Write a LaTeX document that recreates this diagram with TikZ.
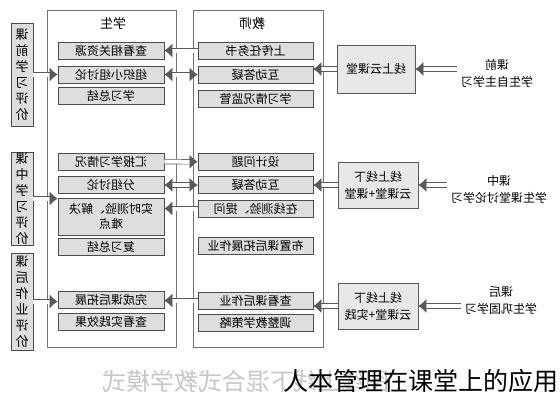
\documentclass[tikz,border=0pt]{standalone}
\usepackage{fontspec}
\usepackage{graphicx}
\newfontfamily\cjk{Noto Sans CJK SC}
\usetikzlibrary{positioning, arrows.meta}
\newcommand\mr[1]{\reflectbox{#1}}

\tikzset{
  panel/.style={draw=black!55, line width=0.8pt, fill=white, minimum width=130pt, minimum height=337pt, inner sep=0pt},
  sbox/.style={draw=black!70, fill=black!13, line width=0.8pt, minimum width=106pt, minimum height=17pt, inner sep=0pt, align=center, font=\cjk\fontsize{12}{15}\selectfont},
  tbox/.style={sbox, minimum width=115pt},
  evalbox/.style={draw=black!70, fill=black!13, line width=0.8pt, minimum width=22pt, inner sep=0pt, align=center, font=\cjk\fontsize{13}{16}\selectfont},
  cbox/.style={draw=black!65, fill=black!9, line width=0.8pt, minimum width=80pt, minimum height=46pt, align=center, font=\cjk\fontsize{12}{17}\selectfont},
  phase/.style={align=center, font=\cjk\fontsize{12}{17}\selectfont},
  hollow/.style={draw=black!65, line width=0.7pt, double=white, double distance=4pt, -{Latex[length=8pt,width=14pt]}},
  hollowboth/.style={hollow, {Latex[length=8pt,width=14pt]}-{Latex[length=8pt,width=14pt]}},
}

\begin{document}
\begin{tikzpicture}[x=1pt, y=-1pt]
        \useasboundingbox (0,0) rectangle (560,400);
        % columns
        \node (stu) [panel, minimum width=129pt] at (111.5,178.5) {};
        \node (tea) [panel] at (258,178.5) {};
        \node (stuT) [font=\cjk\fontsize{13}{15}\selectfont] at (113,23) {\mr{学生}};
        \node (teaT) [font=\cjk\fontsize{13}{15}\selectfont] at (252,24) {\mr{教师}};
        % student
        \node (s1) [sbox] at (111,50.5)  {\mr{查看相关资源}};
        \node (s2) [sbox] at (111,74.5)  {\mr{组织小组讨论}};
        \node (s3) [sbox] at (111,95.5)  {\mr{学习总结}};
        \node (s4) [sbox] at (111,161.5) {\mr{汇报学习情况}};
        \node (s5) [sbox] at (111,185)   {\mr{分组讨论}};
        \node (s6) [sbox, minimum height=37pt] at (111,216.5) {\mr{实时测验、解决}\\\mr{难点}};
        \node (s7) [sbox] at (111,246.5) {\mr{复习总结}};
        \node (s8) [sbox] at (111,300)   {\mr{完成课后拓展}};
        \node (s9) [sbox] at (111,322)   {\mr{查看实践效果}};
        % teacher
        \node (t1) [tbox] at (255.5,50.5)  {\mr{上传任务书}};
        \node (t2) [tbox] at (255.5,74.5)  {\mr{互动答疑}};
        \node (t3) [tbox] at (255.5,98.5)  {\mr{学习情况监管}};
        \node (t4) [tbox] at (255.5,162)   {\mr{设计问题}};
        \node (t5) [tbox] at (255.5,185)   {\mr{互动答疑}};
        \node (t6) [tbox] at (255.5,208.5) {\mr{在线测验、提问}};
        \node (t7) [tbox] at (255.5,245.5) {\mr{布置课后拓展作业}};
        \node (t8) [tbox] at (255.5,300.5) {\mr{查看课后作业}};
        \node (t9) [tbox] at (255.5,322.5) {\mr{调整教学策略}};
        % evaluation
        \node (eval1) [evalbox, minimum height=103pt] at (22,74.5)
            {\mr{课}\\\mr{前}\\\mr{学}\\\mr{习}\\\mr{评}\\\mr{价}};
        \node (eval2) [evalbox, minimum height=93pt] at (22,198.5)
            {\mr{课}\\\mr{中}\\\mr{学}\\\mr{习}\\\mr{评}\\\mr{价}};
        \node (eval3) [evalbox, minimum height=97pt] at (22,301.5)
            {\mr{课}\\\mr{后}\\\mr{作}\\\mr{业}\\\mr{评}\\\mr{价}};
        % classroom
        \node (cloud1) [cbox, minimum width=78pt, minimum height=48pt] at (376,69) {\mr{线上云课堂}};
        \node (cloud2) [cbox] at (378,185) {\mr{线上线下}\\\mr{云课堂+课堂}};
        \node (cloud3) [cbox] at (378,306) {\mr{线上线下}\\\mr{云课堂+实践}};
        \node (txt1) [phase] at (497,73)  {\mr{课前}\\\mr{学生自主学习}};
        \node (txt2) [phase] at (499,189) {\mr{课中}\\\mr{学生课堂讨论学习}};
        \node (txt3) [phase] at (501,300) {\mr{课后}\\\mr{学生巩固学习}};
        % arrows
        \draw[hollow] (eval1) -- (s2);
        \draw[hollow] (t1) -- (s1);
        \draw[hollowboth] (s2) -- (t2);
        \draw[hollow] (cloud1.west) -- (cloud1.west -| t2.east);
        \draw[hollow] (txt1.west |- cloud1) -- (cloud1.east);
        \draw[hollow] (eval2.east) -- (eval2.east -| s6.west);
        \draw[hollow] (s4) -- (t4);
        \draw[hollowboth] (s5) -- (t5);
        \draw[hollow] (t6.west) -- (t6.west -| s6.east);
        \draw[hollow] (cloud2) -- (t5);
        \draw[hollow] (txt2.west |- cloud2) -- (cloud2.east);
        \draw[hollow] (eval3.east) -- (eval3.east -| s8.west);
        \draw[hollow] (t8.west) -- (t8.west -| s8.east);
        \draw[hollow] (cloud3.west) -- (cloud3.west -| t8.east);
        \draw[hollow] (txt3.west |- cloud3) -- (cloud3.east);
        % caption
        \node (capM) [text=black!22, font=\cjk\fontsize{24}{24}\selectfont] at (246,381) {\mr{图线上线下混合式教学模式}};
        \node (cap) [font=\cjk\fontsize{25}{25}\selectfont] at (421,381) {人本管理在课堂上的应用};
\end{tikzpicture}
\end{document}
